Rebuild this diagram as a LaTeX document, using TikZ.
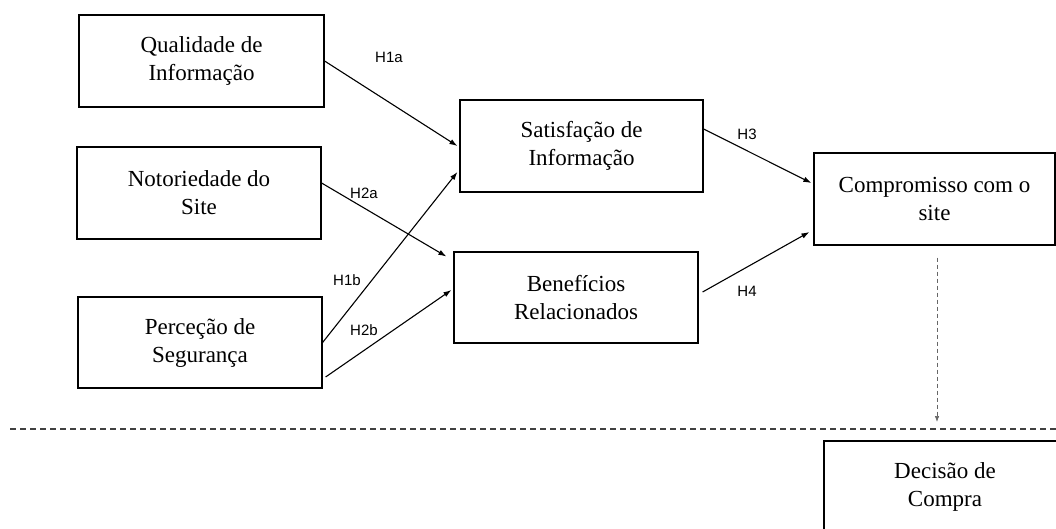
\documentclass[tikz,border=0pt]{standalone}
\usepackage{fontspec}
\setmainfont{Liberation Serif}
\newfontfamily\rotulofont{Liberation Sans}
\usepackage{tikz}
\usetikzlibrary{arrows.meta}

\begin{document}
\begin{tikzpicture}[x=1pt,y=-1pt,
    caixa/.style={draw,line width=1.2pt,rectangle,minimum width=244pt,minimum height=92pt,align=center,font=\fontsize{23}{28}\selectfont},
    rotulo/.style={font=\rotulofont\fontsize{15}{17}\selectfont,inner sep=0pt},
    seta/.style={line width=1.1pt,-{Latex[length=8pt,width=5.5pt]}},
    hipotese/.style={line width=0.7pt,gray!80!black,dash pattern=on 4pt off 3pt,-{Latex[length=6pt,width=4.5pt]}}]
      \useasboundingbox (0,0) rectangle (1056,528);
      \clip (0,0) rectangle (1056,528);
      \node[caixa,minimum width=245pt] (qual) at (201.5,61) {Qualidade de\\Informação};
      \node[caixa] (noto) at (199,193) {Notoriedade do\\Site};
      \node[caixa,minimum height=91pt] (perc) at (200,342.5) {Perceção de\\Segurança};
      \node[caixa,minimum width=243pt] (sat) at (581.5,146) {Satisfação de\\Informação};
      \node[caixa,minimum height=91pt] (ben) at (576,297.5) {Benefícios\\Relacionados};
      \node[caixa,minimum width=241pt] (comp) at (934.5,199) {Compromisso com o\\site};
      \node[caixa,minimum width=242pt] (dec) at (945,487) {Decisão de\\Compra};
      \draw[seta] (qual.east) -- ([xshift=-2pt]sat.west);
      \draw[seta] ([yshift=10pt]noto.east) -- ([xshift=-7pt,yshift=41pt]ben.west);
      \draw[seta] (perc.east) -- ([xshift=-2pt,yshift=-26pt]sat.west);
      \draw[seta] ([xshift=3pt,yshift=-34.5pt]perc.east) -- ([xshift=-2pt,yshift=7.5pt]ben.west);
      \draw[seta] ([yshift=17pt]sat.east) -- ([xshift=-2pt,yshift=16pt]comp.west);
      \draw[seta] ([xshift=4pt,yshift=5.5pt]ben.east) -- ([xshift=-4pt,yshift=-33pt]comp.west);
      \node[rotulo] (h1a) at (389,57) {H1a};
      \node[rotulo] (h2a) at (364,193) {H2a};
      \node[rotulo] (h1b) at (347,280) {H1b};
      \node[rotulo] (h2b) at (364,330) {H2b};
      \node[rotulo] (h3) at (747,134) {H3};
      \node[rotulo] (h4) at (747,291) {H4};
      \coordinate (linhaE) at (10,429);
      \coordinate (linhaD) at (1056,429);
      \coordinate (fim) at (937,422);
      \draw[line width=1.2pt,black!75,dash pattern=on 6pt off 4pt] (linhaE) -- (linhaD);
      \draw[hipotese] ([xshift=2.5pt,yshift=-12pt]comp.south) -- (fim);
\end{tikzpicture}
\end{document}
